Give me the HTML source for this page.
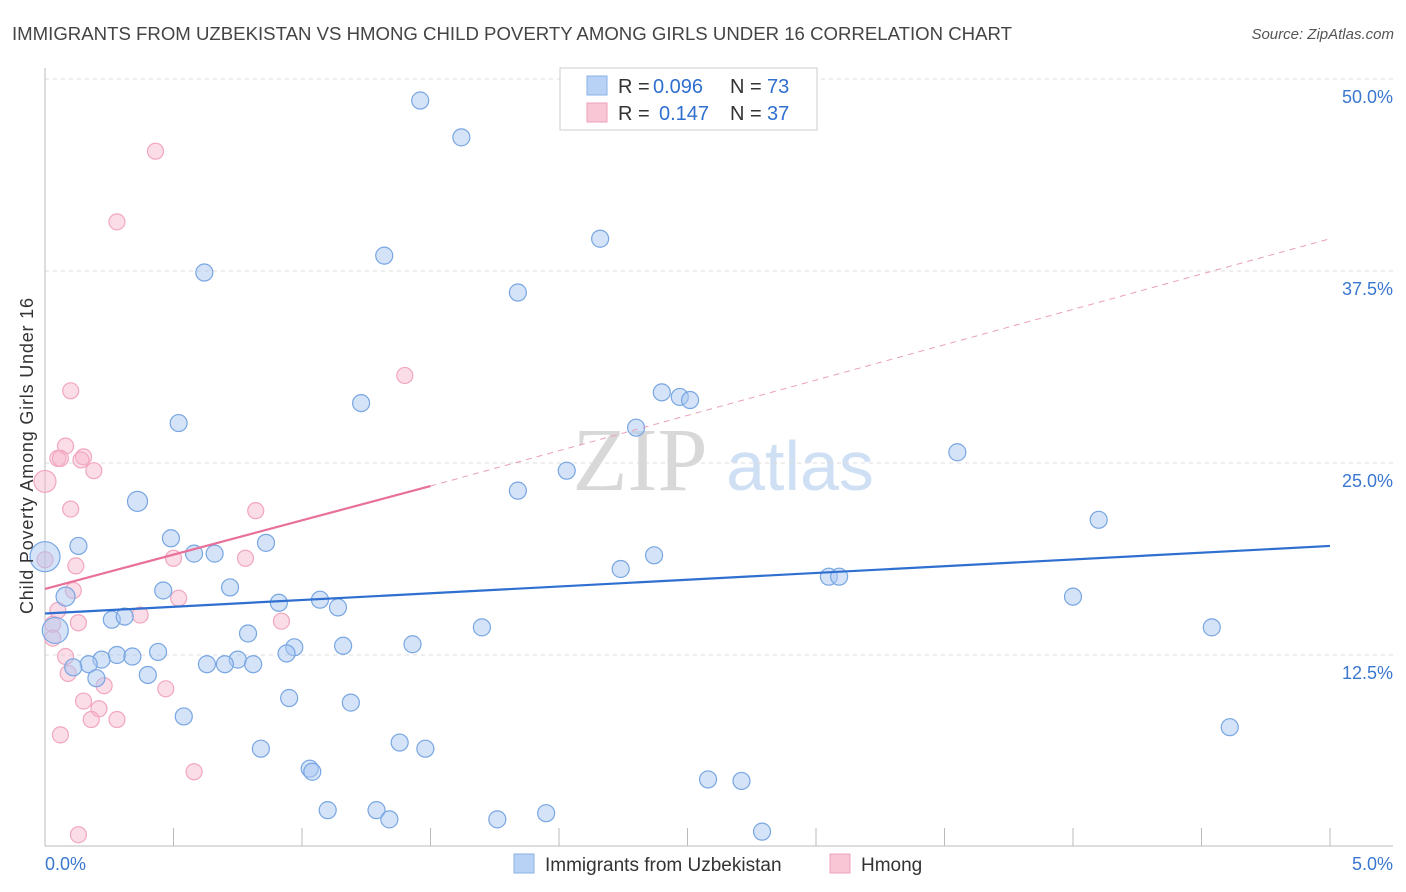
<!DOCTYPE html>
<html><head><meta charset="utf-8"><style>
body{margin:0;background:#fff;font-family:"Liberation Sans",sans-serif;}
svg{display:block}
</style></head><body>
<svg id="c" width="1406" height="892" xmlns="http://www.w3.org/2000/svg">
<text x="12" y="40" font-size="18" fill="#444" textLength="1000" lengthAdjust="spacingAndGlyphs">IMMIGRANTS FROM UZBEKISTAN VS HMONG CHILD POVERTY AMONG GIRLS UNDER 16 CORRELATION CHART</text>
<text x="1394" y="39" font-size="15" fill="#555" font-style="italic" text-anchor="end">Source: ZipAtlas.com</text>
<text x="640" y="490" font-size="90" fill="#d8d8d8" font-family="Liberation Serif" text-anchor="middle">ZIP</text>
<text x="800" y="490" font-size="70" fill="#cfe0f5" text-anchor="middle">atlas</text>
<g id="grid"></g><g id="pts"></g><g id="trend"></g>
<text transform="translate(33,456) rotate(-90)" font-size="18" fill="#333" text-anchor="middle" textLength="316">Child Poverty Among Girls Under 16</text>
<g font-size="20">
<rect x="560" y="68" width="257" height="62" fill="#fff" stroke="#ccc"/>
<rect x="587" y="76" width="20" height="19" fill="#b8d2f5" stroke="#8ab0e6"/>
<rect x="587" y="103" width="20" height="19" fill="#f9c6d5" stroke="#f0a0b8"/>
<text x="618" y="93" fill="#333">R =</text><text x="653" y="93" fill="#2f6fd0">0.096</text>
<text x="730" y="93" fill="#333">N =</text><text x="767" y="93" fill="#2f6fd0">73</text>
<text x="618" y="120" fill="#333">R =</text><text x="659" y="120" fill="#2f6fd0">0.147</text>
<text x="730" y="120" fill="#333">N =</text><text x="767" y="120" fill="#2f6fd0">37</text>
</g>
<g>
<rect x="514" y="854" width="20" height="19" fill="#b8d2f5" stroke="#8ab0e6"/>
<text x="545" y="871" font-size="19" fill="#333">Immigrants from Uzbekistan</text>
<rect x="830" y="854" width="20" height="19" fill="#f9c6d5" stroke="#f0a0b8"/>
<text x="861" y="871" font-size="19" fill="#333">Hmong</text>
</g>
</svg>
<script>
const yTicks=[12.5,25,37.5,50];
const yTickLabels=["12.5%","25.0%","37.5%","50.0%"];
const xTickLabels=["0.0%","5.0%"];
const bluePts=[[1.46,48.6],[1.62,46.2],[0.62,37.4],[1.32,38.5],[2.16,39.6],[1.84,36.1],[1.23,28.9],[0.52,27.6],[2.40,29.6],[2.47,29.3],[2.51,29.1],[2.30,27.3],[2.03,24.5],[1.84,23.2],[3.55,25.7],[0.36,22.5],[4.10,21.3],[0.00,18.9],[0.13,19.6],[0.49,20.1],[0.58,19.1],[0.66,19.1],[0.86,19.8],[2.37,18.99],[2.24,18.1],[3.05,17.6],[3.09,17.6],[0.46,16.7],[0.72,16.9],[0.08,16.3],[0.91,15.9],[1.07,16.1],[1.14,15.6],[4.00,16.3],[0.26,14.8],[0.31,15.0],[0.04,14.1],[0.79,13.9],[1.70,14.3],[4.54,14.3],[1.16,13.1],[1.43,13.2],[0.97,13.0],[0.94,12.6],[0.28,12.5],[0.22,12.2],[0.34,12.4],[0.44,12.7],[0.75,12.2],[0.63,11.9],[0.70,11.9],[0.81,11.9],[0.17,11.9],[0.11,11.7],[0.40,11.2],[0.20,10.99],[0.95,9.7],[1.19,9.4],[0.54,8.5],[4.61,7.8],[0.84,6.4],[1.38,6.8],[1.48,6.4],[1.03,5.1],[1.04,4.9],[2.58,4.4],[2.71,4.3],[1.10,2.4],[1.29,2.4],[1.34,1.8],[1.76,1.8],[1.95,2.2],[2.79,1.0]];
const blueSizes=[8.5,8.5,8.5,8.5,8.5,8.5,8.5,8.5,8.5,8.5,8.5,8.5,8.5,8.5,8.5,10,8.5,15,8.5,8.5,8.5,8.5,8.5,8.5,8.5,8.5,8.5,8.5,8.5,9.5,8.5,8.5,8.5,8.5,8.5,8.5,13];
const pinkPts=[[0.43,45.3],[0.28,40.7],[1.40,30.7],[0.10,29.7],[0.08,26.1],[0.05,25.3],[0.06,25.3],[0.15,25.4],[0.14,25.2],[0.19,24.5],[0.00,23.8],[0.10,22.0],[0.82,21.9],[0.00,18.7],[0.12,18.3],[0.50,18.8],[0.78,18.8],[0.11,16.7],[0.52,16.2],[0.05,15.4],[0.37,15.1],[0.03,14.5],[0.13,14.6],[0.92,14.7],[0.03,13.6],[0.08,12.4],[0.09,11.3],[0.23,10.5],[0.47,10.3],[0.15,9.5],[0.21,9.0],[0.18,8.3],[0.28,8.3],[0.06,7.3],[0.58,4.9],[0.13,0.8]];
const blueTrend=[[0,15.2],[5,19.6]];
const pinkTrend=[[0,16.8],[1.5,23.5],[5,39.6]];
const X=v=>45+v*257, Y=v=>847-v*15.36;
const NS="http://www.w3.org/2000/svg", svg=document.getElementById('c');
function mk(t,a,p){const e=document.createElementNS(NS,t);for(const k in a)e.setAttribute(k,a[k]);p.appendChild(e);return e;}
const g=document.getElementById('grid');
yTicks.forEach((t,i)=>{
 const l=mk('line',{x1:45,x2:1393,y1:Y(t),y2:Y(t),stroke:'#ddd','stroke-dasharray':'4,4'},g);
 
 
 const tx=mk('text',{x:1393,y:Y(t)+24,'font-size':18,fill:'#3a78d0','text-anchor':'end'},g);
 tx.textContent=yTickLabels[i];
 
 
});
const ax=mk('line',{x1:45,x2:45,y1:68,y2:846,stroke:'#bbb'},g);


const bx=mk('line',{x1:45,x2:1393,y1:846,y2:846,stroke:'#bbb'},g);


for(let i=0;i<=10;i++){const t=mk('line',{x1:X(i*0.5),x2:X(i*0.5),y1:828,y2:846,stroke:'#bbb'},g);
 
 }
[[0,45,'start'],[1,1393,'end']].forEach(([i,x,a])=>{const t=mk('text',{x:x,y:870,'font-size':18,fill:'#3a78d0','text-anchor':a},g);t.textContent=xTickLabels[i];
 
 });
const p=document.getElementById('pts');
pinkPts.forEach((d,i)=>{const c=mk('circle',{cx:X(d[0]),cy:Y(d[1]),r:(i==10?11:8),fill:'rgba(246,180,202,0.45)',stroke:'#f2a6bf','stroke-width':1.2},p);
 
 });
bluePts.forEach((d,i)=>{const c=mk('circle',{cx:X(d[0]),cy:Y(d[1]),r:(blueSizes[i]||8.5),fill:'rgba(170,200,242,0.5)',stroke:'#78a6e2','stroke-width':1.2},p);
 
 });
const tr=document.getElementById('trend');
let l1=mk('line',{x1:X(blueTrend[0][0]),y1:Y(blueTrend[0][1]),x2:X(blueTrend[1][0]),y2:Y(blueTrend[1][1]),stroke:'#2f6fd0','stroke-width':2.2},tr);


let l2=mk('line',{x1:X(pinkTrend[0][0]),y1:Y(pinkTrend[0][1]),x2:X(pinkTrend[1][0]),y2:Y(pinkTrend[1][1]),stroke:'#e8709a','stroke-width':2.2},tr);


let l3=mk('line',{x1:X(pinkTrend[1][0]),y1:Y(pinkTrend[1][1]),x2:X(pinkTrend[2][0]),y2:Y(pinkTrend[2][1]),stroke:'#eaa0b8','stroke-width':1,'stroke-dasharray':'6,5'},tr);


</script>
</body></html>
